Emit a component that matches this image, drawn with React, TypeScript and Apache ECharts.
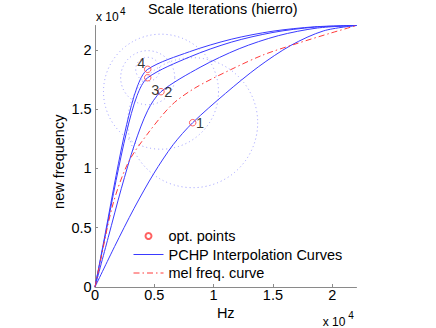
import React, { useEffect, useRef } from 'react';
import * as echarts from 'echarts';

const FONT = "'Liberation Sans', Arial, Helvetica, sans-serif";

// axis extent (Hz) and tick labels (x 10^4)
const AXIS_MAX = 22050;
const tickValues = [0, 5000, 10000, 15000, 20000];
const tickLabels = ['0', '0.5', '1', '1.5', '2'];

// optimisation points and their search radii (Hz)
const optX = [8238, 5565, 4444, 4444];
const optY = [13854, 16468, 17648, 18356];
const optLabels = ['1', '2', '3', '4'];
const searchRadius = [5480, 4850, 2280, 1010];

// PCHP interpolation curves (one per iteration)
const curve1X = [0, 1648, 3295, 4943, 6590, 8238, 11000, 13763, 16525, 19288, 22050];
const curve1Y = [0, 3402, 6631, 9544, 11999, 13854, 16322, 18557, 20377, 21602, 22050];
const curve2X = [0, 1113, 2226, 3339, 4452, 5565, 8862, 12159, 15456, 18753, 22050];
const curve2Y = [0, 4167, 8324, 12045, 14902, 16468, 18525, 20093, 21192, 21838, 22050];
const curve3X = [0, 889, 1778, 2666, 3555, 4444, 7965, 11486, 15008, 18529, 22050];
const curve3Y = [0, 4439, 8990, 13085, 16160, 17648, 19391, 20644, 21465, 21913, 22050];
const curve4X = [0, 889, 1778, 2666, 3555, 4444, 7965, 11486, 15008, 18529, 22050];
const curve4Y = [0, 4639, 9402, 13683, 16870, 18356, 19837, 20890, 21573, 21940, 22050];

// mel frequency curve
const melX = [0, 422, 1518, 2783, 4359, 6467, 8432, 11383, 14166, 17033, 19815, 22050];
const melY = [0, 2024, 6999, 10456, 12817, 15346, 16780, 18298, 19562, 20532, 21392, 22050];

const zip = (xs: number[], ys: number[]) => xs.map((x, i) => [x, ys[i]]);

export default function App() {
  const ref = useRef<HTMLDivElement>(null);

  useEffect(() => {
    if (!ref.current) return;
    const chart = echarts.init(ref.current, null, { renderer: 'svg' });

    const labelOffsets = [[7.3, 0], [7.3, 0], [7.6, 12.3], [-6.4, -6]];
    const blue = '#3a3aff';
    const red = '#ff3b3b';
    const curves = [
      zip(curve1X, curve1Y),
      zip(curve2X, curve2Y),
      zip(curve3X, curve3Y),
      zip(curve4X, curve4Y),
    ];

    const axisCommon = {
      type: 'value',
      min: 0,
      max: AXIS_MAX,
      interval: 5000,
      nameMoveOverlap: false,
      axisLine: { show: true, lineStyle: { color: '#8a8a8a', width: 1 } },
      axisTick: {
        show: true,
        inside: true,
        length: 3,
        customValues: tickValues,
        lineStyle: { color: '#8a8a8a' },
      },
      splitLine: { show: false },
      axisLabel: {
        customValues: tickValues,
        formatter: (v: number) => {
          const i = tickValues.indexOf(v);
          return i >= 0 ? tickLabels[i] : '';
        },
        color: '#000',
        fontSize: 14.5,
        fontFamily: FONT,
      },
    };

    const hiddenSymbol = { color: 'rgba(0,0,0,0)', borderWidth: 0, opacity: 0 };

    const option: any = {
      animation: false,
      backgroundColor: '#fff',
      textStyle: { fontFamily: FONT },
      title: {
        text: 'Scale Iterations (hierro)',
        left: 148,
        top: 2,
        padding: 0,
        textStyle: { fontSize: 14.4, fontWeight: 'normal', color: '#000', fontFamily: FONT },
      },
      grid: { left: 95, top: 25.5, width: 261.5, height: 261.5, containLabel: false },
      xAxis: {
        ...axisCommon,
        name: 'Hz',
        nameLocation: 'middle',
        nameGap: 18.5,
        nameTextStyle: { fontSize: 14.5, color: '#000', fontFamily: FONT },
        axisLabel: { ...axisCommon.axisLabel, margin: 0.5 },
      },
      yAxis: {
        ...axisCommon,
        name: 'new frequency',
        nameLocation: 'middle',
        nameGap: 29,
        nameTextStyle: { fontSize: 14.5, color: '#000', fontFamily: FONT, padding: [0, 11, 0, 0] },
        axisLabel: { ...axisCommon.axisLabel, margin: 3.3 },
      },
      legend: {
        orient: 'vertical',
        left: 133,
        top: 228.5,
        padding: 0,
        itemWidth: 30,
        itemHeight: 6,
        itemGap: 3.5,
        data: [
          { name: 'opt. points' },
          { name: 'PCHP Interpolation Curves', itemStyle: hiddenSymbol, lineStyle: { width: 1 } },
          { name: 'mel freq. curve', itemStyle: hiddenSymbol, lineStyle: { width: 1 } },
        ],
        textStyle: { fontSize: 14.5, color: '#000', fontFamily: FONT },
      },
      graphic: [
        { type: 'text', left: 96, top: 10.5, style: { text: 'x 10', fill: '#000', font: `12px ${FONT}` } },
        { type: 'text', left: 120, top: 6, style: { text: '4', fill: '#000', font: `10px ${FONT}` } },
        { type: 'text', left: 322.7, top: 315.8, style: { text: 'x 10', fill: '#000', font: `12px ${FONT}` } },
        { type: 'text', left: 348.3, top: 310.5, style: { text: '4', fill: '#000', font: `10px ${FONT}` } },
      ],
      series: [
        {
          type: 'custom',
          name: 'search radius',
          silent: true,
          clip: false,
          z: 1,
          data: optX.map((x, i) => [x, optY[i], searchRadius[i]]),
          encode: { x: 0, y: 1 },
          renderItem: (params: any, api: any) => {
            const c = api.coord([api.value(0), api.value(1)]);
            const r = api.size([api.value(2), 0])[0];
            return {
              type: 'circle',
              shape: { cx: c[0], cy: c[1], r },
              style: { fill: 'none', stroke: '#9a9aff', lineWidth: 1, lineDash: [1, 3] },
            };
          },
        },
        ...curves.map((d) => ({
          type: 'line',
          name: 'PCHP Interpolation Curves',
          data: d,
          symbol: 'none',
          smooth: 0.3,
          z: 3,
          itemStyle: { color: blue },
          lineStyle: { color: blue, width: 1 },
        })),
        {
          type: 'line',
          name: 'mel freq. curve',
          data: zip(melX, melY),
          symbol: 'none',
          smooth: 0.3,
          z: 3,
          itemStyle: { color: red },
          lineStyle: { color: red, width: 1, type: [6, 3, 1.5, 3] },
        },
        {
          type: 'scatter',
          name: 'opt. points',
          symbol: 'circle',
          symbolSize: 6.5,
          z: 5,
          itemStyle: { color: 'rgba(255,255,255,0)', borderColor: red, borderWidth: 1 },
          data: optX.map((x, i) => ({
            value: [x, optY[i]],
            label: {
              show: true,
              formatter: optLabels[i],
              position: 'inside',
              offset: labelOffsets[i],
              color: '#000',
              fontSize: 14.5,
              fontFamily: FONT,
            },
          })),
        },
      ],
    };

    chart.setOption(option);
    return () => chart.dispose();
  }, []);

  return <div ref={ref} style={{ position: 'fixed', left: 0, top: 0, width: 436, height: 328 }} />;
}
